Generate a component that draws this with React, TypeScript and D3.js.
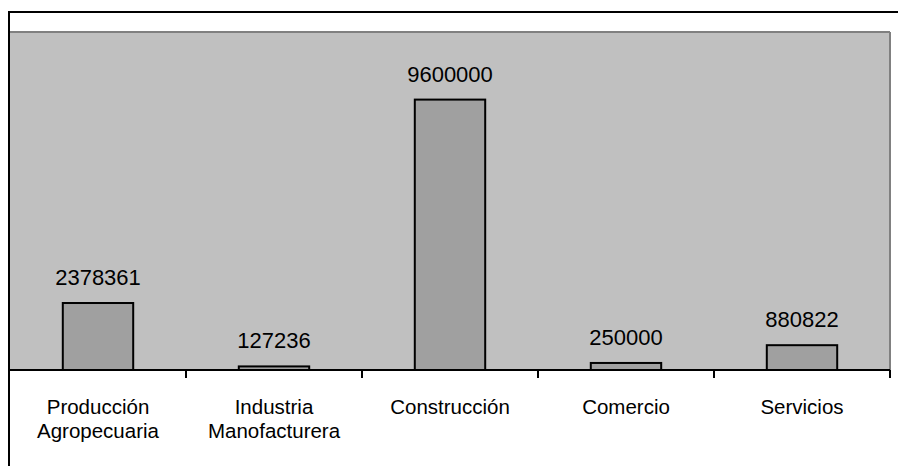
import React from "react";
import * as d3 from "d3";

const categories: string[][] = [
  ["Producción", "Agropecuaria"],
  ["Industria", "Manofacturera"],
  ["Construcción"],
  ["Comercio"],
  ["Servicios"],
];
const values: number[] = [2378361, 127236, 9600000, 250000, 880822];
const yMax = 12000000;

export default function App() {
  const W = 898, H = 466;
  const plot = { left: 10, right: 890, top: 32, bottom: 370 };
  const x = d3
    .scaleBand<number>()
    .domain(values.map((_, i) => i))
    .range([plot.left, plot.right])
    .paddingInner(0.6)
    .paddingOuter(0.3);
  const band = (plot.right - plot.left) / values.length;
  const y = d3.scaleLinear().domain([0, yMax]).range([plot.bottom, plot.top]);
  const font = "'Liberation Sans', Arial, sans-serif";
  return (
    <svg
      width={W}
      height={H}
      style={{ position: "absolute", left: 0, top: 0, background: "#fff" }}
    >
      <rect
        x={plot.left}
        y={plot.top}
        width={plot.right - plot.left}
        height={plot.bottom - plot.top}
        fill="#c0c0c0"
      />
      <line x1={plot.left} x2={plot.right} y1={plot.top} y2={plot.top} stroke="#808080" strokeWidth={2} />
      <line x1={plot.right} x2={plot.right} y1={plot.top} y2={plot.bottom} stroke="#808080" strokeWidth={2} />
      {values.map((v, i) => (
        <g key={i}>
          <rect
            x={x(i)!}
            y={y(v)}
            width={x.bandwidth()}
            height={plot.bottom - y(v)}
            fill="#a0a0a0"
            stroke="#000"
            strokeWidth={2}
          />
          <text
            x={x(i)! + x.bandwidth() / 2}
            y={y(v) - 18}
            textAnchor="middle"
            fontFamily={font}
            fontSize={22}
            fill="#000"
          >
            {v}
          </text>
          {categories[i].map((line, j) => (
            <text
              key={j}
              x={x(i)! + x.bandwidth() / 2}
              y={414 + j * 24}
              textAnchor="middle"
              fontFamily={font}
              fontSize={20.5}
              fill="#000"
            >
              {line}
            </text>
          ))}
        </g>
      ))}
      <line x1={plot.left} x2={plot.right} y1={plot.bottom} y2={plot.bottom} stroke="#000" strokeWidth={2} />
      {d3.range(1, values.length + 1).map((k) => (
        <line
          key={k}
          x1={plot.left + band * k}
          x2={plot.left + band * k}
          y1={plot.bottom}
          y2={plot.bottom + 8}
          stroke="#000"
          strokeWidth={2}
        />
      ))}
      <rect x={9} y={12} width={W + 20} height={H + 20} fill="none" stroke="#000" strokeWidth={2} />
    </svg>
  );
}
